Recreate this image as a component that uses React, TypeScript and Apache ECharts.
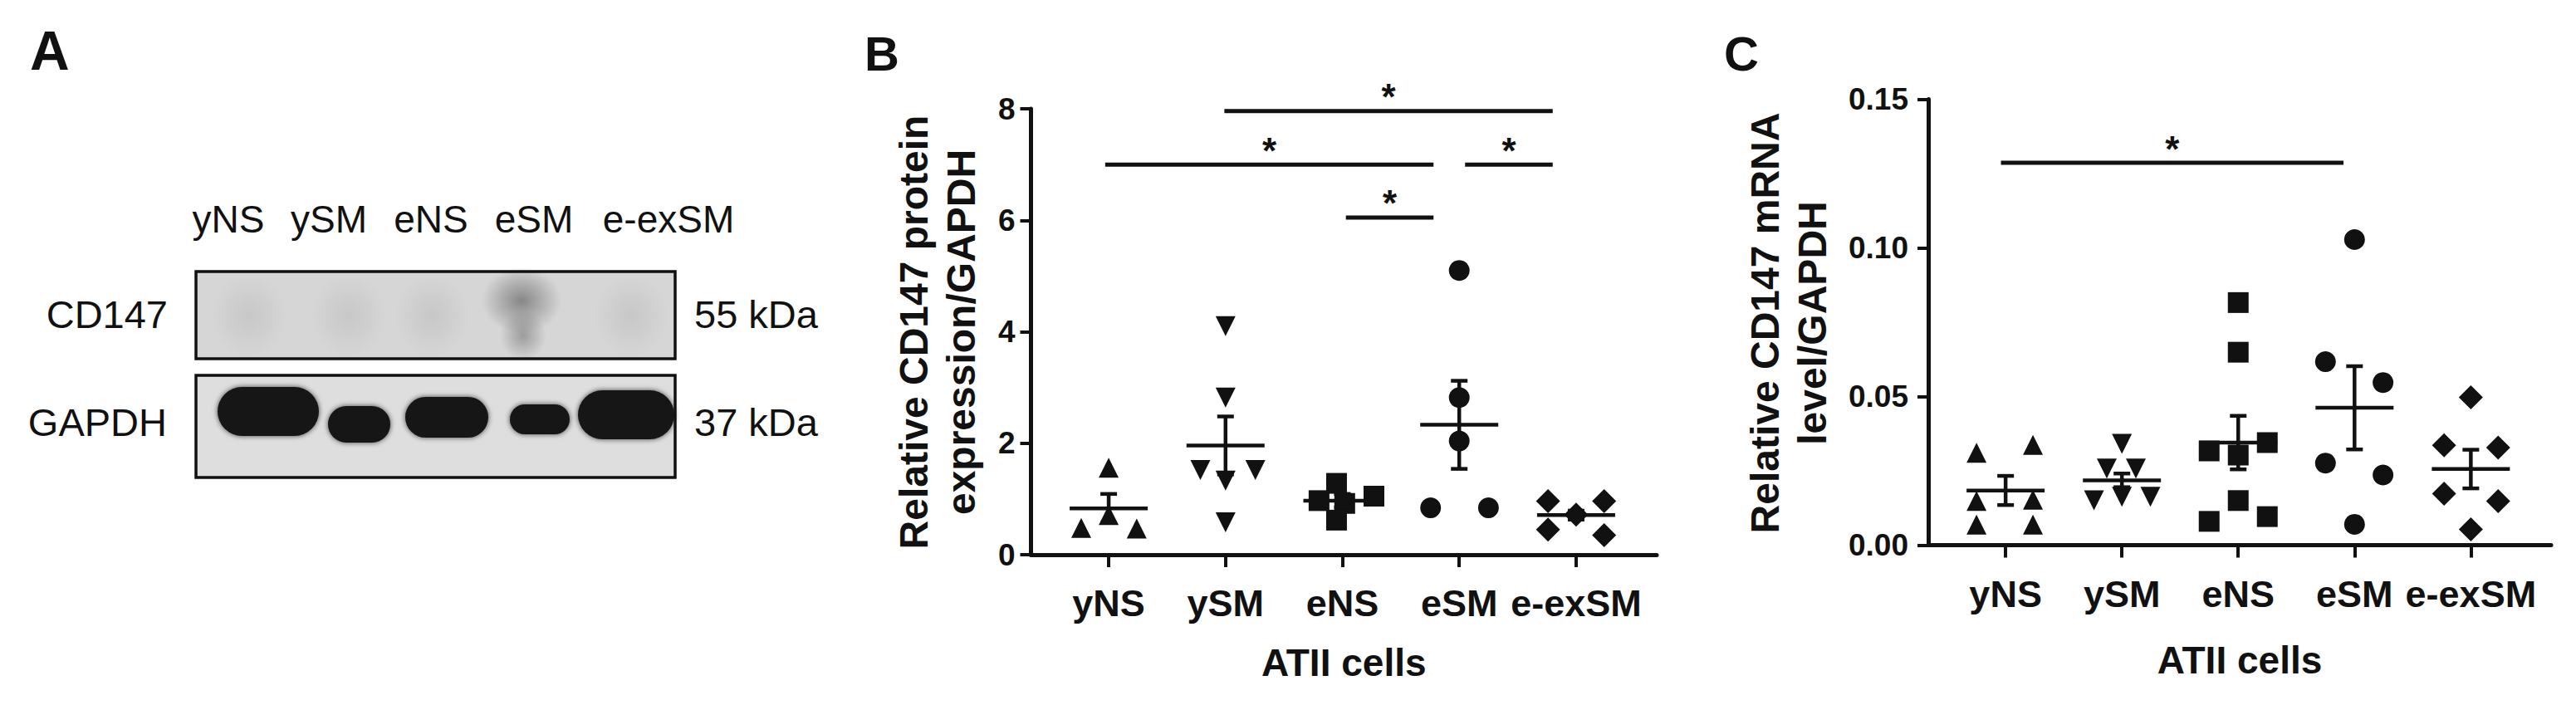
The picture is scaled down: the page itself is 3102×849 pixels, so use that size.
import React, { useEffect, useRef } from "react";
import * as echarts from "echarts";

const FONT = '"Liberation Sans", Arial, Helvetica, sans-serif';
const INK = "#111111";

// ---------- categories ----------
const categories = ["yNS", "ySM", "eNS", "eSM", "e-exSM"];

// ---------- Panel A (western blot) labels ----------
const blotTargets = ["CD147", "GAPDH"];
const blotSizes = ["55 kDa", "37 kDa"];

// ---------- Panel B: CD147 protein / GAPDH ----------
const protYNS = [1.56, 0.71, 0.48, 0.47];
const protYNSJit = [0, 0, -0.235, 0.24];
const protYSM = [4.1, 2.82, 1.52, 1.52, 1.33, 0.58];
const protYSMJit = [0, 0, -0.215, 0.255, 0, 0];
const protENS = [1.28, 1.05, 0.97, 0.92, 0.62];
const protENSJit = [-0.05, 0.27, -0.2, 0.02, -0.05];
const protESM = [5.1, 2.82, 2.04, 0.84, 0.84];
const protESMJit = [0, 0, 0, -0.245, 0.25];
const protEEX = [0.96, 0.96, 0.72, 0.45, 0.35];
const protEEXJit = [-0.24, 0.24, 0, -0.24, 0.24];
const protMean = [0.83, 1.96, 0.97, 2.33, 0.71];
const protSem = [0.26, 0.52, 0.12, 0.79, 0.08];
const protSigBars = [
  [-0.03, 2.78, 7.0],
  [0.99, 3.8, 7.96],
  [3.05, 3.8, 7.0],
  [2.03, 2.78, 6.05],
];

// ---------- Panel C: CD147 mRNA / GAPDH ----------
const mrnaYNS = [0.0311, 0.0337, 0.0149, 0.0153, 0.0069, 0.0069];
const mrnaYNSJit = [-0.25, 0.235, -0.25, 0.235, -0.25, 0.235];
const mrnaYSM = [0.0341, 0.0258, 0.0258, 0.0151, 0.0163, 0.0163];
const mrnaYSMJit = [0, -0.13, 0.12, -0.24, 0, 0.245];
const mrnaENS = [0.0816, 0.0649, 0.0317, 0.0345, 0.0303, 0.015, 0.008, 0.0096];
const mrnaENSJit = [0, 0, -0.25, 0.25, 0, 0, -0.25, 0.25];
const mrnaESM = [0.1028, 0.0617, 0.0547, 0.0276, 0.0236, 0.007];
const mrnaESMJit = [0, -0.25, 0.245, -0.25, 0.245, 0];
const mrnaEEX = [0.0497, 0.0336, 0.0328, 0.0173, 0.0148, 0.0053];
const mrnaEEXJit = [0, -0.23, 0.235, -0.23, 0.235, 0];
const mrnaMean = [0.0184, 0.0218, 0.0345, 0.0462, 0.0256];
const mrnaSem = [0.0049, 0.0023, 0.009, 0.014, 0.0065];
const mrnaSigBars = [[-0.04, 2.905, 0.1286]];

const symbols = ["triangle", "triangle", "rect", "circle", "diamond"];
const symbolRot = [0, 180, 0, 0, 0];
const symbolSizes = [24, 24, 25, 25, 29];

function scatterSeries(axisIdx: number, groups: number[][], jits: number[][]) {
  return groups.map((vals, i) => ({
    type: "scatter",
    xAxisIndex: axisIdx,
    yAxisIndex: axisIdx,
    symbol: symbols[i],
    symbolRotate: symbolRot[i],
    symbolSize: symbolSizes[i],
    itemStyle: { color: INK, opacity: 1 },
    silent: true,
    z: 3,
    data: vals.map((v, k) => [i + jits[i][k], v]),
  }));
}

function meanSemSeries(axisIdx: number, means: number[], sems: number[]) {
  return {
    type: "custom",
    xAxisIndex: axisIdx,
    yAxisIndex: axisIdx,
    silent: true,
    clip: false,
    z: 4,
    data: means.map((m, i) => [i, m, sems[i]]),
    renderItem: (params: any, api: any) => {
      const c = api.value(0);
      const m = api.value(1);
      const s = api.value(2);
      const p = api.coord([c, m]);
      const t = api.coord([c, m + s]);
      const b = api.coord([c, m - s]);
      const st = { stroke: INK, lineWidth: 4.5 };
      return {
        type: "group",
        children: [
          { type: "line", shape: { x1: p[0] - 47, y1: p[1], x2: p[0] + 47, y2: p[1] }, style: st },
          { type: "line", shape: { x1: t[0], y1: t[1], x2: b[0], y2: b[1] }, style: st },
          { type: "line", shape: { x1: t[0] - 10, y1: t[1], x2: t[0] + 10, y2: t[1] }, style: st },
          { type: "line", shape: { x1: b[0] - 10, y1: b[1], x2: b[0] + 10, y2: b[1] }, style: st },
        ],
      };
    },
  };
}

function sigSeries(axisIdx: number, bars: number[][]) {
  return {
    type: "custom",
    xAxisIndex: axisIdx,
    yAxisIndex: axisIdx,
    silent: true,
    clip: false,
    z: 5,
    data: bars,
    renderItem: (params: any, api: any) => {
      const a = api.coord([api.value(0), api.value(2)]);
      const b = api.coord([api.value(1), api.value(2)]);
      return {
        type: "group",
        children: [
          { type: "line", shape: { x1: a[0], y1: a[1], x2: b[0], y2: b[1] }, style: { stroke: INK, lineWidth: 5 } },
          {
            type: "text",
            x: (a[0] + b[0]) / 2,
            y: a[1] - 17,
            style: { text: "*", fontSize: 44, fontWeight: "bold", fontFamily: FONT, fill: INK, align: "center", verticalAlign: "middle" },
          },
        ],
      };
    },
  };
}

function xAxisCfg(gridIndex: number, nameGap: number) {
  return {
    type: "value",
    gridIndex,
    min: -0.665,
    max: 4.69,
    name: "ATII cells",
    nameLocation: "middle",
    nameGap,
    nameTextStyle: { fontSize: 46, fontWeight: "bold", color: INK, fontFamily: FONT },
    axisLine: { show: true, onZero: false, lineStyle: { color: INK, width: 5 } },
    axisTick: { show: true, customValues: [0, 1, 2, 3, 4], length: 15, lineStyle: { color: INK, width: 4 } },
    axisLabel: {
      show: true,
      customValues: [0, 1, 2, 3, 4],
      formatter: (v: number) => categories[Math.round(v)] ?? "",
      fontSize: 45,
      fontWeight: "bold",
      fontFamily: FONT,
      color: INK,
      margin: 36,
    },
    splitLine: { show: false },
  };
}

function yAxisCfg(gridIndex: number, max: number, interval: number, margin: number, fmt: (v: number) => string) {
  return {
    type: "value",
    gridIndex,
    min: 0,
    max,
    interval,
    axisLine: { show: true, onZero: false, lineStyle: { color: INK, width: 5 } },
    axisTick: { show: true, length: 13, lineStyle: { color: INK, width: 4 } },
    axisLabel: { fontSize: 37, fontWeight: "bold", fontFamily: FONT, color: INK, margin, formatter: fmt },
    splitLine: { show: false },
  };
}

function blotGraphics() {
  const txt = (text: string, x: number, y: number, align: string, size = 46) => ({
    type: "text",
    x,
    y,
    silent: true,
    style: { text, fontSize: size, fontFamily: FONT, fill: INK, align, verticalAlign: "middle" },
  });
  const laneX = [275, 396, 519, 643, 805];
  const els: any[] = [];
  categories.forEach((c, i) => els.push(txt(c, laneX[i], 264, "center")));
  els.push(txt(blotTargets[0], 202, 378, "right", 47));
  els.push(txt(blotTargets[1], 201, 508, "right", 47));
  els.push(txt(blotSizes[0], 836, 378, "left", 47));
  els.push(txt(blotSizes[1], 836, 508, "left", 47));
  // CD147 membrane
  els.push({ type: "rect", silent: true, shape: { x: 236, y: 327, width: 577, height: 105 }, style: { fill: "#d6d6d6", stroke: "none" } });
  const faint = [300, 420, 520, 760];
  faint.forEach((cx) =>
    els.push({
      type: "ellipse",
      silent: true,
      shape: { cx, cy: 380, rx: 45, ry: 50 },
      style: { fill: new echarts.graphic.RadialGradient(0.5, 0.5, 0.5, [{ offset: 0, color: "rgba(90,90,90,0.12)" }, { offset: 1, color: "rgba(90,90,90,0)" }]) },
    })
  );
  els.push({
    type: "ellipse",
    silent: true,
    shape: { cx: 628, cy: 362, rx: 48, ry: 40 },
    style: { fill: new echarts.graphic.RadialGradient(0.5, 0.5, 0.5, [{ offset: 0, color: "rgba(70,70,70,0.55)" }, { offset: 1, color: "rgba(70,70,70,0)" }]) },
  });
  els.push({
    type: "ellipse",
    silent: true,
    shape: { cx: 630, cy: 404, rx: 28, ry: 30 },
    style: { fill: new echarts.graphic.RadialGradient(0.5, 0.5, 0.5, [{ offset: 0, color: "rgba(70,70,70,0.4)" }, { offset: 1, color: "rgba(70,70,70,0)" }]) },
  });
  els.push({ type: "rect", silent: true, shape: { x: 236, y: 327, width: 577, height: 105 }, style: { fill: "none", stroke: INK, lineWidth: 3.5 } });
  // GAPDH membrane
  els.push({ type: "rect", silent: true, shape: { x: 236, y: 452, width: 577, height: 123 }, style: { fill: "#dedede", stroke: "none" } });
  const bands = [
    [262, 466, 122, 59],
    [395, 489, 75, 44],
    [488, 478, 100, 49],
    [614, 487, 72, 36],
    [696, 470, 116, 59],
  ];
  bands.forEach(([x, y, w, h]) =>
    els.push({
      type: "rect",
      silent: true,
      shape: { x, y, width: w, height: h, r: h / 2 },
      style: { fill: "#161616", shadowBlur: 6, shadowColor: "rgba(0,0,0,0.7)" },
    })
  );
  els.push({ type: "rect", silent: true, shape: { x: 236, y: 452, width: 577, height: 123 }, style: { fill: "none", stroke: INK, lineWidth: 3.5 } });
  return els;
}

function panelLetter(t: string, x: number, y: number, size: number) {
  return { type: "text", x, y, silent: true, style: { text: t, fontSize: size, fontWeight: "bold", fontFamily: FONT, fill: INK, align: "left", verticalAlign: "middle" } };
}

function yTitle(t: string, x: number, y: number) {
  return {
    type: "text",
    x,
    y,
    rotation: Math.PI / 2,
    silent: true,
    style: { text: t, fontSize: 48, fontWeight: "bold", fontFamily: FONT, fill: INK, align: "center", verticalAlign: "middle", lineHeight: 57 },
  };
}

export default function App() {
  const ref = useRef<HTMLDivElement>(null);
  useEffect(() => {
    document.body.style.margin = "0";
    if (!ref.current) return;
    const chart = echarts.init(ref.current, undefined, { renderer: "svg" });
    const option: any = {
      animation: false,
      backgroundColor: "#ffffff",
      grid: [
        { left: 1241.5, top: 131, width: 753.5, height: 537, containLabel: false },
        { left: 2322, top: 119.5, width: 750, height: 537, containLabel: false },
      ],
      xAxis: [xAxisCfg(0, 107), xAxisCfg(1, 115)],
      yAxis: [
        yAxisCfg(0, 8, 2, 19, (v: number) => String(v)),
        yAxisCfg(1, 0.15, 0.05, 24, (v: number) => v.toFixed(2)),
      ],
      graphic: [
        ...blotGraphics(),
        panelLetter("A", 36, 61, 66),
        panelLetter("B", 1041, 64, 58),
        panelLetter("C", 2076, 64, 58),
        yTitle("Relative CD147 protein\nexpression/GAPDH", 1129, 400),
        yTitle("Relative CD147 mRNA\nlevel/GAPDH", 2154, 389),
      ],
      series: [
        ...scatterSeries(0, [protYNS, protYSM, protENS, protESM, protEEX], [protYNSJit, protYSMJit, protENSJit, protESMJit, protEEXJit]),
        meanSemSeries(0, protMean, protSem),
        sigSeries(0, protSigBars),
        ...scatterSeries(1, [mrnaYNS, mrnaYSM, mrnaENS, mrnaESM, mrnaEEX], [mrnaYNSJit, mrnaYSMJit, mrnaENSJit, mrnaESMJit, mrnaEEXJit]),
        meanSemSeries(1, mrnaMean, mrnaSem),
        sigSeries(1, mrnaSigBars),
      ],
    };
    chart.setOption(option);
    return () => chart.dispose();
  }, []);
  return <div ref={ref} style={{ width: 3102, height: 849 }} />;
}
